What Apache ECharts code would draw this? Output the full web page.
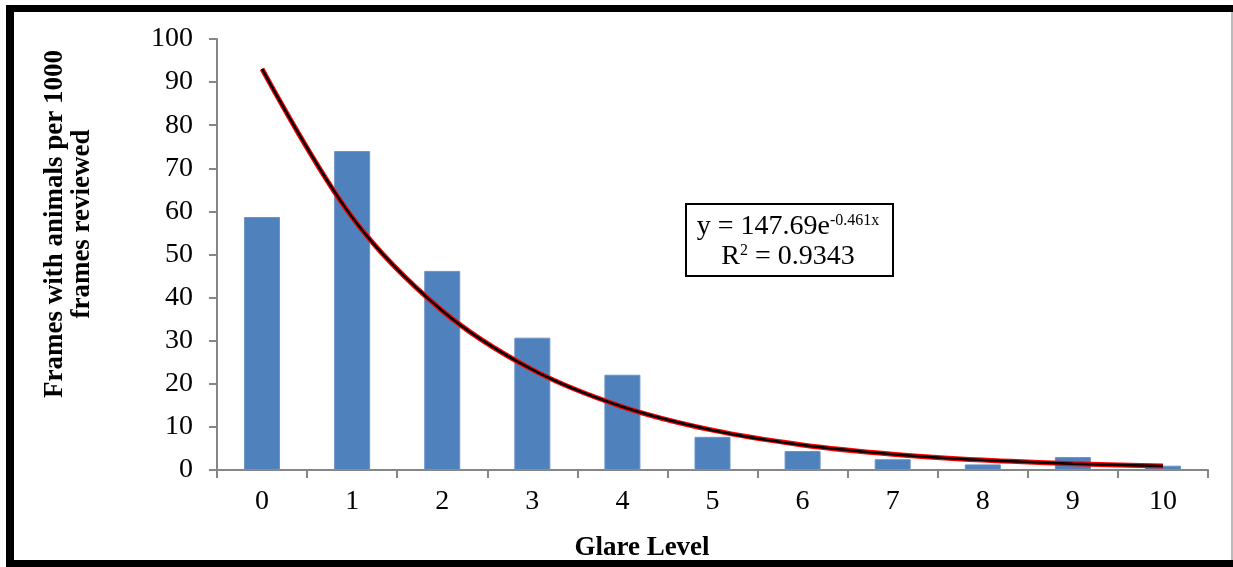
<!DOCTYPE html>
<html>
<head>
<meta charset="utf-8">
<script src="https://cdn.jsdelivr.net/npm/echarts@6/dist/echarts.min.js"></script>
<style>
html,body{margin:0;padding:0;background:#fff;}
#c{width:1233px;height:567px;}
</style>
</head>
<body>
<div id="c"></div>
<script>
const categories = ['0','1','2','3','4','5','6','7','8','9','10'];
const frameValues = [58.7, 74.0, 46.2, 30.7, 22.1, 7.7, 4.4, 2.5, 1.3, 3.0, 1.0];
const trendValues = [93.06, 58.64, 36.95, 23.28, 14.67, 9.24, 5.82, 3.67, 2.31, 1.46, 0.92];
const yTicks = {min: 0, max: 100, interval: 10};
const yTitle = ['Frames with animals per 1000', 'frames reviewed'];
const xTitle = 'Glare Level';

const serif = '"Liberation Serif", "DejaVu Serif", serif';
const chart = echarts.init(document.getElementById('c'), null, {renderer: 'canvas'});
chart.setOption({
  animation: false,
  backgroundColor: '#fff',
  grid: {left: 217, right: 25, top: 39, bottom: 97, containLabel: false},
  xAxis: {
    type: 'category',
    data: categories,
    axisLine: {lineStyle: {color: '#868686', width: 2}},
    axisTick: {show: true, length: 8, lineStyle: {color: '#868686', width: 2}},
    axisLabel: {color: '#000', fontFamily: serif, fontSize: 28, margin: 18}
  },
  yAxis: {
    type: 'value',
    min: yTicks.min, max: yTicks.max, interval: yTicks.interval,
    splitLine: {show: false},
    axisLine: {show: true, lineStyle: {color: '#868686', width: 2}},
    axisTick: {show: true, length: 8, lineStyle: {color: '#868686', width: 2}},
    axisLabel: {color: '#000', fontFamily: serif, fontSize: 28, margin: 24}
  },
  series: [
    {
      type: 'bar',
      data: frameValues,
      barWidth: 36,
      itemStyle: {color: '#4F81BD', borderColor: '#6b93c6', borderWidth: 1},
      z: 2
    },
    {
      type: 'line',
      data: trendValues,
      smooth: 0.35,
      symbol: 'none',
      lineStyle: {color: '#ff0000', width: 5},
      z: 3
    },
    {
      type: 'line',
      data: trendValues,
      smooth: 0.35,
      symbol: 'none',
      lineStyle: {color: '#000', width: 2.5},
      z: 4
    }
  ],
  graphic: [
    {type: 'rect', left: 6, top: 5, shape: {width: 1227, height: 7}, style: {fill: '#000'}, z: 100},
    {type: 'rect', left: 6, top: 5, shape: {width: 8, height: 562}, style: {fill: '#000'}, z: 100},
    {type: 'rect', left: 6, top: 560, shape: {width: 1227, height: 7}, style: {fill: '#000'}, z: 100},
    {type: 'rect', left: 1231, top: 12, shape: {width: 2, height: 548}, style: {fill: '#bbb'}, z: 100},
    {
      type: 'text', x: 55, y: 224, rotation: Math.PI / 2, z: 100,
      style: {text: yTitle[0], font: 'bold 27px ' + serif, fill: '#000', textAlign: 'center', textVerticalAlign: 'middle'}
    },
    {
      type: 'text', x: 82, y: 224, rotation: Math.PI / 2, z: 100,
      style: {text: yTitle[1], font: 'bold 27px ' + serif, fill: '#000', textAlign: 'center', textVerticalAlign: 'middle'}
    },
    {
      type: 'text', x: 642, y: 548, z: 100,
      style: {text: xTitle, font: 'bold 27px ' + serif, fill: '#000', textAlign: 'center', textVerticalAlign: 'middle'}
    },
    {type: 'rect', left: 685, top: 203, shape: {width: 207, height: 72}, style: {fill: '#fff', stroke: '#000', lineWidth: 2}, z: 100},
    {
      type: 'text', x: 788, y: 227, z: 101,
      style: {
        text: '{a|y = 147.69e}{s|-0.461x}',
        textAlign: 'center', textVerticalAlign: 'middle',
        rich: {
          a: {font: '28px ' + serif, fill: '#000', verticalAlign: 'bottom'},
          s: {font: '16px ' + serif, fill: '#000', verticalAlign: 'top'}
        }
      }
    },
    {
      type: 'text', x: 788, y: 257, z: 101,
      style: {
        text: '{a|R}{s|2}{a| = 0.9343}',
        textAlign: 'center', textVerticalAlign: 'middle',
        rich: {
          a: {font: '28px ' + serif, fill: '#000', verticalAlign: 'bottom'},
          s: {font: '16px ' + serif, fill: '#000', verticalAlign: 'top'}
        }
      }
    }
  ]
});
</script>
</body>
</html>
